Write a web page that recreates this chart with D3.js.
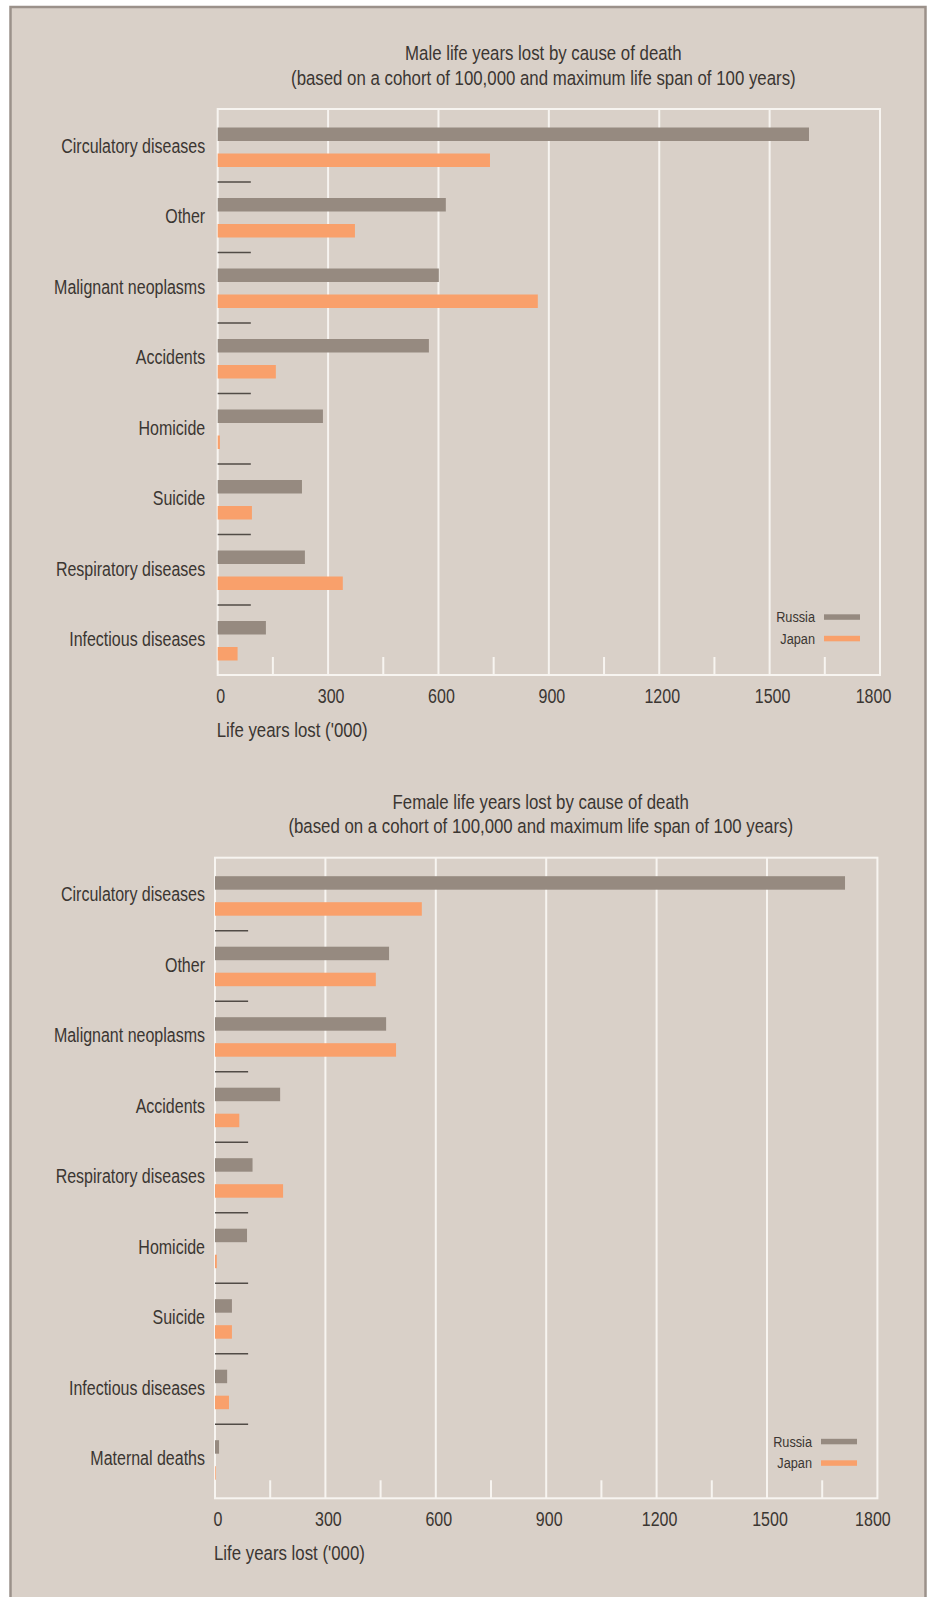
<!DOCTYPE html>
<html>
<head>
<meta charset="utf-8">
<script src="https://d3js.org/d3.v7.min.js"></script>
<style>
  body { margin: 0; background: #ffffff; }
  svg text { font-family: "Liberation Sans Narrow", "Liberation Sans", Arial, sans-serif; fill: #3b3632; }
  .lbl { font-size: 19.5px; }
  .ttl { font-size: 20.5px; }
  .leg { font-size: 15.5px; }
</style>
</head>
<body>
<script>
// ---------------------------------------------------------------
// data
// ---------------------------------------------------------------
var seriesNames = ["Russia", "Japan"];

var maleTitle = ["Male life years lost by cause of death",
                 "(based on a cohort of 100,000 and maximum life span of 100 years)"];
var maleCauses = ["Circulatory diseases", "Other", "Malignant neoplasms", "Accidents",
                  "Homicide", "Suicide", "Respiratory diseases", "Infectious diseases"];
var maleRussia = [1607, 620, 601, 574, 286, 229, 237, 131];
var maleJapan  = [740, 373, 870, 158, 6, 93, 340, 54];

var femaleTitle = ["Female life years lost by cause of death",
                   "(based on a cohort of 100,000 and maximum life span of 100 years)"];
var femaleCauses = ["Circulatory diseases", "Other", "Malignant neoplasms", "Accidents",
                    "Respiratory diseases", "Homicide", "Suicide", "Infectious diseases", "Maternal deaths"];
var femaleRussia = [1712, 473, 465, 177, 102, 87, 46, 33, 11];
var femaleJapan  = [562, 437, 492, 66, 185, 5, 46, 38, 2];

var xTicks = [0, 300, 600, 900, 1200, 1500, 1800];
var minorTicks = [150, 450, 750, 1050, 1350, 1650];
var xTitle = "Life years lost ('000)";

// ---------------------------------------------------------------
// layout
// ---------------------------------------------------------------
var W = 930, H = 1597;
var colors = { Russia: "#968a80", Japan: "#f9a06b" };
var bandStep = 70.5;

var svg = d3.select("body").append("svg").attr("width", W).attr("height", H);

svg.append("rect")
  .attr("x", 10.5).attr("y", 7).attr("width", 915).attr("height", 1610)
  .attr("fill", "#d9d0c8").attr("stroke", "#9b918a").attr("stroke-width", 2.5);

function drawChart(cfg) {
  var g = svg.append("g");
  var left = cfg.left, right = cfg.right, top = cfg.top, bottom = cfg.bottom;

  var x = d3.scaleLinear().domain([0, 1800]).range([left, right]);
  var y = d3.scaleBand().domain(cfg.causes)
    .range([top + 2.5, top + 2.5 + bandStep * cfg.causes.length]);

  // titles
  cfg.title.forEach(function (t, i) {
    g.append("text").attr("class", "ttl")
      .attr("x", (left + right) / 2 - 5.5).attr("y", top - 49 + i * 24.5)
      .attr("text-anchor", "middle").text(t);
  });

  // grid lines
  g.selectAll(".grid").data(xTicks.slice(1, -1)).enter().append("line")
    .attr("x1", function (d) { return x(d); }).attr("x2", function (d) { return x(d); })
    .attr("y1", top).attr("y2", bottom)
    .attr("stroke", "#f7f4f0").attr("stroke-width", 2);

  g.selectAll(".minor").data(minorTicks).enter().append("line")
    .attr("x1", function (d) { return x(d); }).attr("x2", function (d) { return x(d); })
    .attr("y1", bottom - 18).attr("y2", bottom)
    .attr("stroke", "#f7f4f0").attr("stroke-width", 2);

  // frame of plot
  g.append("rect")
    .attr("x", left).attr("y", top).attr("width", right - left).attr("height", bottom - top)
    .attr("fill", "none").attr("stroke", "#f7f4f0").attr("stroke-width", 2);

  // bars
  var rows = cfg.causes.map(function (c, i) {
    return { cause: c, Russia: cfg.russia[i], Japan: cfg.japan[i] };
  });

  g.selectAll(".russia").data(rows).enter().append("rect")
    .attr("x", x(0))
    .attr("y", function (d) { return y(d.cause) + 16; })
    .attr("width", function (d) { return x(d.Russia) - x(0); })
    .attr("height", 13.5)
    .attr("fill", colors.Russia);

  g.selectAll(".japan").data(rows).enter().append("rect")
    .attr("x", x(0))
    .attr("y", function (d) { return y(d.cause) + 42; })
    .attr("width", function (d) { return x(d.Japan) - x(0); })
    .attr("height", 13.5)
    .attr("fill", colors.Japan);

  // little separators between causes
  g.selectAll(".sep").data(cfg.causes.slice(0, -1)).enter().append("line")
    .attr("x1", x(0)).attr("x2", x(90))
    .attr("y1", function (d) { return y(d) + bandStep; })
    .attr("y2", function (d) { return y(d) + bandStep; })
    .attr("stroke", "#514b46").attr("stroke-width", 1.5);

  // category labels
  g.selectAll(".cat").data(cfg.causes).enter().append("text")
    .attr("class", "lbl")
    .attr("x", left - cfg.labelGap)
    .attr("y", function (d) { return y(d) + bandStep / 2 + 6; })
    .attr("text-anchor", "end")
    .text(function (d) { return d; });

  // x axis labels
  var ax = g.append("g").attr("transform", "translate(0," + bottom + ")")
    .call(d3.axisBottom(x).tickValues(xTicks).tickFormat(d3.format("d")).tickSize(0).tickPadding(0));
  ax.select(".domain").remove();
  ax.attr("font-family", null).attr("font-size", null);
  ax.selectAll("text")
    .attr("class", "lbl")
    .attr("y", 28).attr("dy", 0)
    .attr("dx", function (d) { return d === 1800 ? -cfg.lastShift : 2.5; })
    .attr("fill", null);

  g.append("text").attr("class", "ttl")
    .attr("x", left - 1).attr("y", bottom + 62).text(xTitle);

  // legend
  var leg = g.append("g");
  seriesNames.forEach(function (s, i) {
    var ly = cfg.legendY + i * 21.5;
    leg.append("text").attr("class", "leg")
      .attr("x", cfg.legendX - 9).attr("y", ly + 5)
      .attr("text-anchor", "end").text(s);
    leg.append("rect")
      .attr("x", cfg.legendX).attr("y", ly - 2.7)
      .attr("width", 36).attr("height", 5.5)
      .attr("fill", colors[s]);
  });
}

drawChart({
  title: maleTitle, causes: maleCauses, russia: maleRussia, japan: maleJapan,
  left: 217.7, right: 880, top: 109, bottom: 675,
  labelGap: 12.5, lastShift: 7, legendX: 824, legendY: 617
});

drawChart({
  title: femaleTitle, causes: femaleCauses, russia: femaleRussia, japan: femaleJapan,
  left: 215, right: 877.4, top: 857.7, bottom: 1498.3,
  labelGap: 10, lastShift: 5, legendX: 821, legendY: 1441.5
});

// if the narrow face is missing, squeeze the regular one to a similar width
(function () {
  var probe = "Circulatory diseases";
  var t1 = svg.append("text").style("font-family", "'Liberation Sans Narrow', 'Liberation Sans'").attr("font-size", 20).text(probe);
  var t2 = svg.append("text").style("font-family", "'Liberation Sans'").attr("font-size", 20).text(probe);
  var narrowOk = t1.node().getComputedTextLength() < 0.92 * t2.node().getComputedTextLength();
  t1.remove(); t2.remove();
  if (!narrowOk) {
    svg.selectAll("text").each(function () {
      var w = this.getComputedTextLength();
      d3.select(this).attr("textLength", w * 0.82).attr("lengthAdjust", "spacingAndGlyphs");
    });
  }
})();
</script>
</body>
</html>
